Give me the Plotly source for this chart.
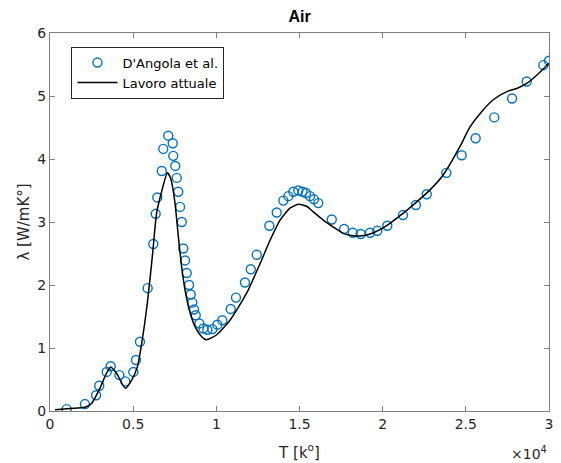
import plotly.graph_objects as go

# D'Angola et al. reference data (T in K, lambda in W/mK)
dangola_T = [1000, 2100, 2770, 2960, 3410, 3650, 4170, 4530, 5010, 5170, 5410, 5870,
             6210, 6355, 6450, 6720, 6810, 7110, 7380, 7410, 7530, 7620, 7710, 7820,
             7920, 8010, 8120, 8220, 8360, 8460, 8555, 8660, 8760, 8980, 9220, 9460,
             9760, 10060, 10360, 10860, 11180, 11720, 12070, 12430, 13190, 13630,
             14030, 14330, 14630, 14930, 15190, 15390, 15630, 15870, 16130, 16940,
             17680, 18200, 18680, 19240, 19680, 20280, 21220, 22000, 22650, 23830,
             24750, 25590, 26710, 27780, 28660, 29660, 30000]
dangola_L = [0.03, 0.11, 0.25, 0.40, 0.62, 0.71, 0.57, 0.47, 0.62, 0.81, 1.10, 1.95,
             2.65, 3.13, 3.39, 3.81, 4.16, 4.37, 4.25, 4.05, 3.89, 3.70, 3.48, 3.24,
             3.00, 2.58, 2.39, 2.19, 2.00, 1.85, 1.72, 1.61, 1.52, 1.39, 1.31, 1.29,
             1.30, 1.37, 1.44, 1.62, 1.80, 2.04, 2.25, 2.48, 2.94, 3.15,
             3.34, 3.41, 3.48, 3.50, 3.48, 3.46, 3.41, 3.36, 3.30, 3.04,
             2.89, 2.83, 2.81, 2.83, 2.86, 2.94, 3.11, 3.27, 3.44, 3.78,
             4.06, 4.33, 4.66, 4.96, 5.23, 5.49, 5.56]

# Present work (Lavoro attuale)
lavoro_T = [300, 1200, 2100, 2500, 3000, 3400, 3650, 4000, 4530, 4910, 5250, 5510,
            5850, 6170, 6410, 6710, 7060, 7260, 7515, 7715, 7915, 8120, 8380, 8720,
            9120, 9400, 10020, 10820, 11820, 12630, 13230, 13830, 14430, 14930, 15430,
            15830, 16430, 17030, 17630, 18240, 18740, 19240, 19840, 20440, 21240,
            22050, 22850, 23650, 24650, 25250, 25850, 26650, 27460, 28060, 28660,
            29260, 30000]
lavoro_L = [0.02, 0.04, 0.06, 0.12, 0.36, 0.60, 0.70, 0.60, 0.36, 0.49, 0.70, 1.07,
            1.71, 2.50, 3.14, 3.48, 3.78, 3.69, 3.30, 2.77, 2.29, 1.92, 1.60, 1.34,
            1.18, 1.13, 1.21, 1.44, 1.87, 2.34, 2.71, 3.03, 3.22, 3.28, 3.25,
            3.16, 3.03, 2.92, 2.82, 2.78, 2.78, 2.81, 2.88, 2.98, 3.14,
            3.32, 3.51, 3.75, 4.20, 4.51, 4.72, 4.94, 5.07, 5.12, 5.20,
            5.33, 5.52]

x_tickvals = [0, 5000, 10000, 15000, 20000, 25000, 30000]
x_ticktext = ["0", "0.5", "1", "1.5", "2", "2.5", "3"]
y_tickvals = [0, 1, 2, 3, 4, 5, 6]

FONT = "DejaVu Sans"
blue = "#0072BD"
axcol = "#808080"
txtcol = "#262626"

W, H = 561, 463

fig = go.Figure()
fig.add_trace(go.Scatter(
    x=dangola_T, y=dangola_L, mode="markers", name="D'Angola et al.",
    marker=dict(symbol="circle-open", size=9, color=blue, line=dict(width=1.4, color=blue)),
))
fig.add_trace(go.Scatter(
    x=lavoro_T, y=lavoro_L, mode="lines", name="Lavoro attuale",
    line=dict(color="black", width=1.5, shape="spline", smoothing=0.6),
))

fig.update_layout(
    width=W, height=H,
    margin=dict(l=50, r=12, t=33, b=52),
    paper_bgcolor="white", plot_bgcolor="white",
    font=dict(family=FONT, size=14, color=txtcol),
    title=dict(text="<b>Air</b>", x=(50 + 499 / 2) / W, xanchor="center",
               y=1 - 16 / H, yanchor="middle",
               font=dict(family="Liberation Sans", size=16, color="black")),
    showlegend=True,
    legend=dict(x=0.043, y=0.964, xanchor="left", yanchor="top",
                bgcolor="white", bordercolor="#262626", borderwidth=1,
                font=dict(family=FONT, size=13, color="black"),
                tracegroupgap=0, itemwidth=40),
    xaxis=dict(range=[0, 30000], tickvals=x_tickvals, ticktext=x_ticktext,
               automargin=False,
               showgrid=False, zeroline=False, showline=True, linecolor=axcol,
               linewidth=1, mirror="ticks", ticks="inside", ticklen=5,
               tickcolor=axcol, tickfont=dict(size=14, color=txtcol),
               title=dict(text="T [k<sup>o</sup>]", standoff=16,
                          font=dict(size=15, color=txtcol))),
    yaxis=dict(range=[0, 6], tickvals=y_tickvals,
               automargin=False,
               showgrid=False, zeroline=False, showline=True, linecolor=axcol,
               linewidth=1, mirror="ticks", ticks="inside", ticklen=5,
               tickcolor=axcol, tickfont=dict(size=14, color=txtcol),
               title=dict(text="λ [W/mK°]", standoff=4,
                          font=dict(size=15, color=txtcol))),
)

fig.add_annotation(
    text="×10<sup>4</sup>", xref="paper", yref="paper", x=1.0, y=-0.112,
    xanchor="right", yanchor="middle", showarrow=False,
    font=dict(family=FONT, size=14, color=txtcol),
)

fig.write_html(
    "out.html",
    config={"displayModeBar": False, "responsive": False},
    post_script="document.body.style.margin='0';document.body.style.overflow='hidden';",
)
